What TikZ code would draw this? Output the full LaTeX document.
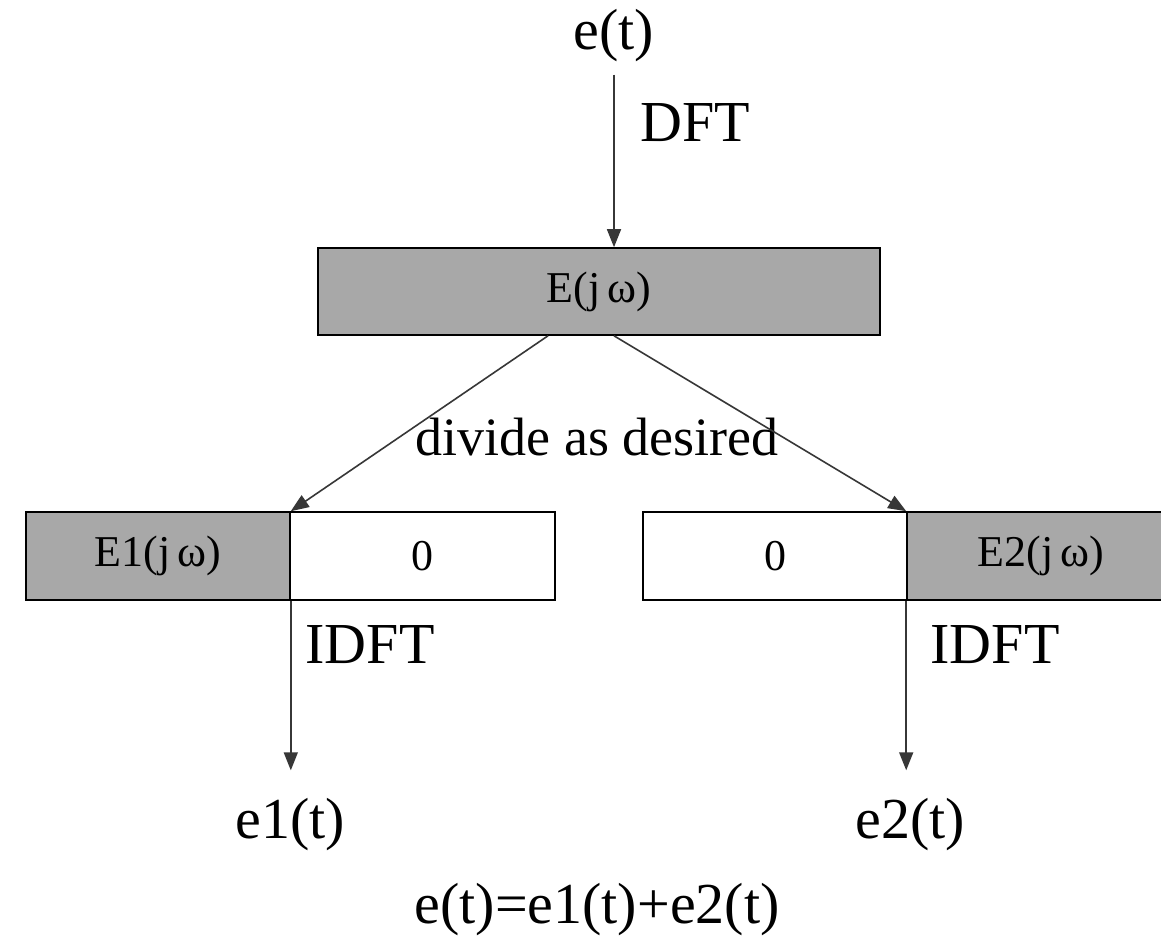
\documentclass[tikz,border=0pt]{standalone}
\usepackage{fontspec}
\setmainfont{Liberation Serif}
\usetikzlibrary{arrows.meta,calc}
\definecolor{boxgray}{RGB}{168,168,168}
\definecolor{linegray}{RGB}{55,55,55}
\begin{document}
\begin{tikzpicture}[x=0.5pt,y=-0.5pt,
  big/.style={font=\fontsize{29}{32}\selectfont, inner sep=0pt},
  mid/.style={font=\fontsize{27}{30}\selectfont, inner sep=0pt},
  boxtext/.style={font=\fontsize{22}{26}\selectfont},
  graybox/.style={draw=black, line width=0.8pt, fill=boxgray, boxtext, minimum height=44pt, inner sep=0pt},
  whitebox/.style={draw=black, line width=0.8pt, fill=white, boxtext, minimum height=44pt, inner sep=0pt},
  conn/.style={draw=linegray, line width=0.8pt, -{Triangle[length=9pt,width=7pt]}}
]
\useasboundingbox[fill=white] (0,0) rectangle (1161,946);

% top
\node[big] (et) at (614,36) {e(t)};
\node[big] (dft) at (695,123) {DFT};
\node[graybox, minimum width=281pt, minimum height=43.5pt] (E) at (599,291.5) {E(j\,ω)};
\draw[conn] ([yshift=-6pt]et.south) -- (et.south |- E.north);

% divide
\node[mid] (div) at (597,437) {divide as desired};
\node[graybox, minimum width=132pt] (E1) at (158,556) {E1(j\,ω)};
\node[whitebox, minimum width=132.5pt] (Z1) at (422.5,556) {0};
\node[whitebox, minimum width=132pt] (Z2) at (775,556) {0};
\node[graybox, minimum width=134pt] (E2) at (1041,556) {E2(j\,ω)};
\draw[conn] ([xshift=-25.5pt]E.south) -- (E1.north east);
\draw[conn] ([xshift=7.5pt]E.south) -- (E2.north west);

% bottom
\node[big] (idft1) at (370,645) {IDFT};
\node[big] (idft2) at (995,645) {IDFT};
\node[big] (e1) at (290,825) {e1(t)};
\node[big] (e2) at (910,825) {e2(t)};
\draw[conn] (E1.south east) -- ([yshift=14pt]e1.north -| E1.south east);
\draw[conn] (E2.south west) -- ([yshift=14pt]e2.north -| E2.south west);
\node[big] (eq) at (597,910) {e(t)=e1(t)+e2(t)};
\end{tikzpicture}
\end{document}
